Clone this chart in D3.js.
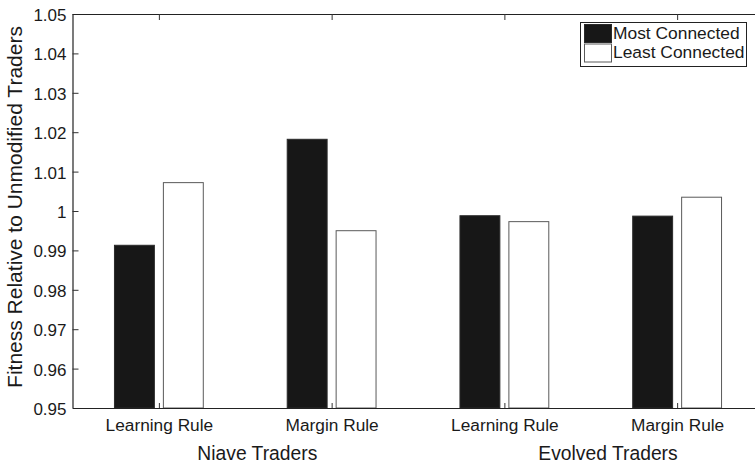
<!DOCTYPE html>
<html>
<head>
<meta charset="utf-8">
<script src="https://cdn.jsdelivr.net/npm/d3@7"></script>
<style>
  body { margin: 0; background: #fff; }
  svg { display: block; }
  text { font-family: "Liberation Sans", Arial, Helvetica, sans-serif; fill: #1a1a1a; }
</style>
</head>
<body>
<svg id="chart" width="755" height="466"></svg>
<script>
// Fitness of modified traders relative to unmodified traders
const categories = ["Learning Rule", "Margin Rule", "Learning Rule", "Margin Rule"];
const groupLabels = ["Niave Traders", "Evolved Traders"];
const seriesNames = ["Most Connected", "Least Connected"];
const mostConnected = [0.9913, 1.0182, 0.9988, 0.9987];
const leastConnected = [1.0072, 0.9950, 0.9973, 1.0035];
const yTicks = [0.95, 0.96, 0.97, 0.98, 0.99, 1.00, 1.01, 1.02, 1.03, 1.04, 1.05];
const yTickLabels = ["0.95", "0.96", "0.97", "0.98", "0.99", "1", "1.01", "1.02", "1.03", "1.04", "1.05"];

const svg = d3.select("#chart");
const plotLeft = 72.5, plotRight = 763.5, plotTop = 14, plotBottom = 408;

const x = d3.scaleLinear().domain([0.5, 4.5]).range([plotLeft, plotRight]);
const y = d3.scaleLinear().domain([0.95, 1.05]).range([plotBottom, plotTop]);

const seriesColors = ["#171717", "#ffffff"];
const seriesStroke = ["#2a2a2a", "#5a5a5a"];
const barWidth = 0.231;     // in category units
const barOffset = 0.1416;   // centre offset of each series from the group centre

const series = [mostConnected, leastConnected];

// bars
series.forEach((vals, s) => {
  svg.append("g").selectAll("rect")
    .data(vals)
    .join("rect")
    .attr("x", (d, i) => x(i + 1 + (s === 0 ? -barOffset : barOffset) - barWidth / 2))
    .attr("width", x(barWidth) - x(0))
    .attr("y", d => y(d))
    .attr("height", d => y(0.95) - y(d))
    .attr("fill", seriesColors[s])
    .attr("stroke", seriesStroke[s])
    .attr("stroke-width", 1);
});

// axes
const tickFmt = d3.scaleOrdinal().domain(yTicks).range(yTickLabels);

const yAxis = svg.append("g")
  .attr("transform", `translate(${plotLeft},0)`)
  .call(d3.axisLeft(y).tickValues(yTicks).tickFormat(d => tickFmt(d))
    .tickSizeInner(-6).tickSizeOuter(0).tickPadding(6));

const xAxis = svg.append("g")
  .attr("transform", `translate(0,${plotBottom})`)
  .call(d3.axisBottom(x).tickValues([1, 2, 3, 4]).tickFormat((d, i) => categories[i])
    .tickSizeInner(-5).tickSizeOuter(0).tickPadding(11));

const topAxis = svg.append("g")
  .attr("transform", `translate(0,${plotTop})`)
  .call(d3.axisTop(x).tickValues([1, 2, 3, 4]).tickFormat("")
    .tickSizeInner(-6).tickSizeOuter(0));

[yAxis, xAxis, topAxis].forEach(g => {
  g.select(".domain").attr("stroke", "#222").attr("stroke-width", 1.2);
  g.selectAll(".tick line").attr("stroke", "#333");
  g.selectAll(".tick text").attr("fill", "#1a1a1a");
});
yAxis.selectAll(".tick text").style("font-size", "17px").attr("dy", "0.38em");
xAxis.selectAll(".tick text").style("font-size", "17.3px");
yAxis.select(".domain").attr("d", `M0.5,${plotTop}V${plotBottom}`);

// group labels under the category labels
const groupPos = [1.57, 3.6];
svg.append("g").selectAll("text")
  .data(groupLabels)
  .join("text")
  .attr("x", (d, i) => x(groupPos[i]))
  .attr("y", 460)
  .attr("text-anchor", "middle")
  .style("font-size", "19.3px")
  .text(d => d);

// y-axis title
svg.append("text")
  .attr("transform", `translate(22,207) rotate(-90)`)
  .attr("text-anchor", "middle")
  .style("font-size", "21px")
  .text("Fitness Relative to Unmodified Traders");

// legend
const legend = svg.append("g");
legend.append("rect")
  .attr("x", 580.5).attr("y", 22.5).attr("width", 166).attr("height", 44)
  .attr("fill", "#fff").attr("stroke", "#222").attr("stroke-width", 1);
const rows = legend.selectAll("g.row")
  .data(seriesNames)
  .join("g")
  .attr("class", "row")
  .attr("transform", (d, i) => `translate(0,${i * 19.5})`);
rows.append("rect")
  .attr("x", 584.5).attr("y", 24.5).attr("width", 27).attr("height", 18)
  .attr("fill", (d, i) => seriesColors[i])
  .attr("stroke", (d, i) => seriesStroke[i]);
rows.append("text")
  .attr("x", 613).attr("y", 38.5)
  .style("font-size", "17.4px")
  .text(d => d);
</script>
</body>
</html>
